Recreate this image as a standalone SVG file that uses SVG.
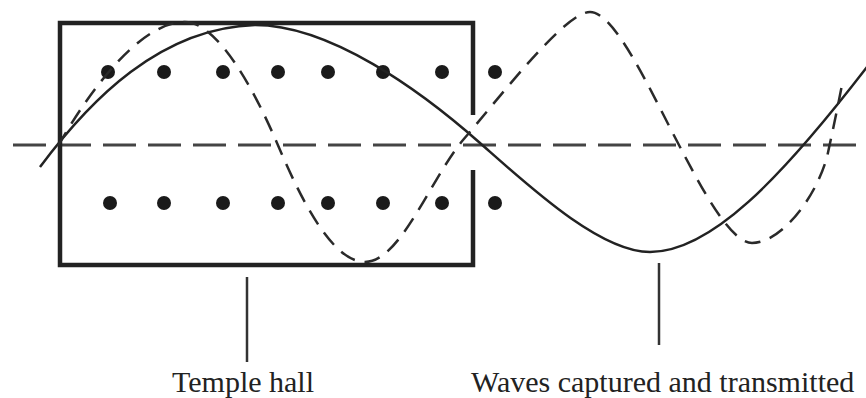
<svg xmlns="http://www.w3.org/2000/svg" width="866" height="398" viewBox="0 0 866 398">
<style>
.axis{fill:none;stroke:#444;stroke-width:3;stroke-dasharray:33 12}
.wave{fill:none;stroke:#222;stroke-width:2.5}
.wave2{fill:none;stroke:#2a2a2a;stroke-width:2.5;stroke-dasharray:16 10}
.hall{fill:none;stroke:#222;stroke-width:4.5}
.dot{fill:#1a1a1a}
.lead{stroke:#333;stroke-width:2.5}
.lbl{font-family:"Liberation Serif","Times New Roman",serif;font-size:30px;fill:#222}
</style>
<rect width="866" height="398" fill="#fff"/>
<g id="axis"><path class="axis" d="M13,145 H866"/></g>
<g id="temple-hall">
<path class="hall" d="M473,115 V23 H60 V265 H473 V170"/>
<g id="columns">
<circle class="dot" cx="108" cy="72" r="7"/><circle class="dot" cx="164" cy="72" r="7"/><circle class="dot" cx="223" cy="72" r="7"/><circle class="dot" cx="278" cy="72" r="7"/><circle class="dot" cx="328" cy="72" r="7"/><circle class="dot" cx="383" cy="72" r="7"/><circle class="dot" cx="442" cy="72" r="7"/><circle class="dot" cx="495" cy="72" r="7"/>
<circle class="dot" cx="110" cy="203" r="7"/><circle class="dot" cx="164" cy="203" r="7"/><circle class="dot" cx="223" cy="203" r="7"/><circle class="dot" cx="278" cy="203" r="7"/><circle class="dot" cx="328" cy="203" r="7"/><circle class="dot" cx="383" cy="203" r="7"/><circle class="dot" cx="442" cy="203" r="7"/><circle class="dot" cx="495" cy="203" r="7"/>
</g>
</g>
<g id="waves">
<path class="wave" d="M40,167 C90,100 160,28 255,25 C330,25 420,90 480,143 C530,187 600,252 650,252 C710,252 780,180 867,67"/>
<path class="wave2" d="M58,146 C90,90 140,22 185,22 C215,22 250,80 277,143 C297,190 330,262 365,262 C400,262 430,180 463,140 C500,97 565,12 590,12 C615,12 650,90 680,147 C700,185 730,243 752,243 C780,243 815,200 827,157 C833,130 837,110 842,85"/>
</g>
<g id="connectors">
<line class="lead" x1="247" y1="277" x2="247" y2="362"/>
<line class="lead" x1="659" y1="263" x2="659" y2="345"/>
</g>
<g id="label-temple"><text class="lbl" x="172" y="392">Temple hall</text></g>
<g id="label-waves"><text class="lbl" x="471" y="392">Waves captured and transmitted</text></g>
</svg>
